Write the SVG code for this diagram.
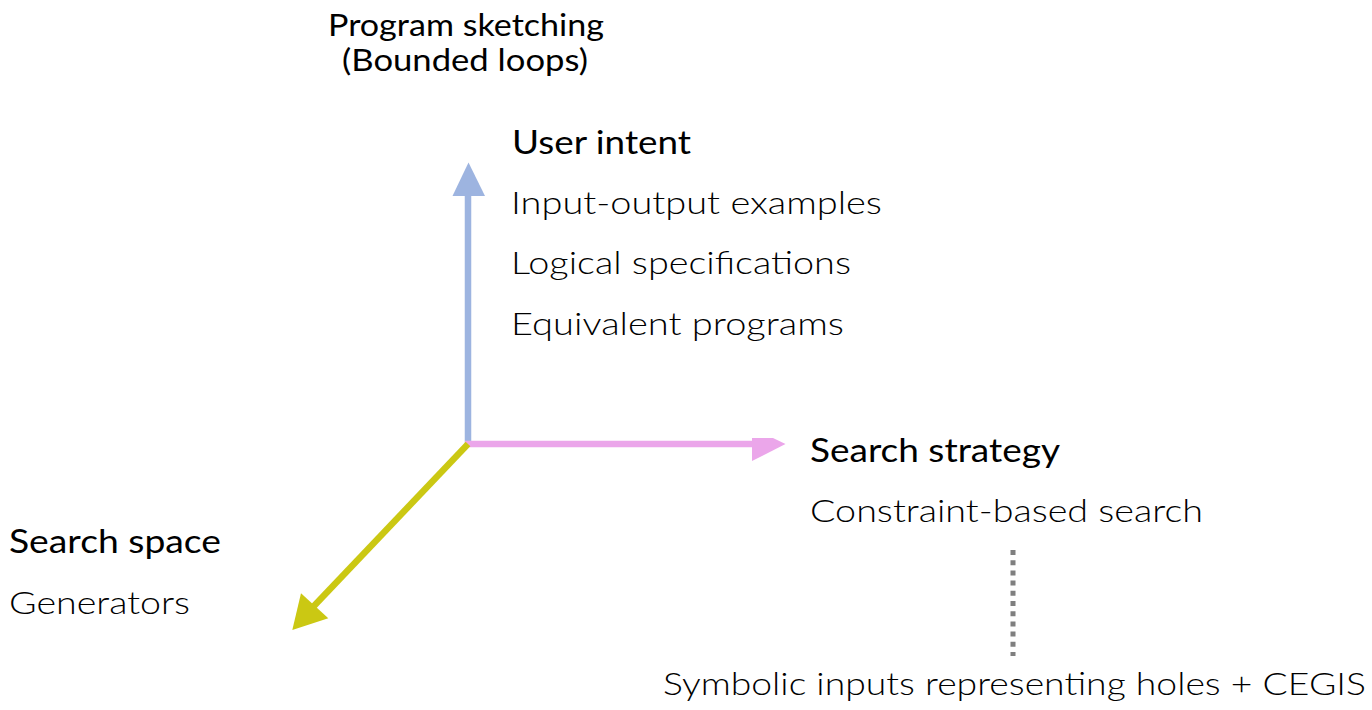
<svg xmlns="http://www.w3.org/2000/svg" width="1372" height="710" viewBox="0 0 1372 710">
  <style>
    .head { font-family: Lato, "Liberation Sans", sans-serif; font-size: 32px; font-weight: 400; fill: #000000; }
    .body { font-family: Lato, "Liberation Sans", sans-serif; font-size: 32px; font-weight: 300; fill: #000000; }
    .title { font-family: Lato, "Liberation Sans", sans-serif; font-size: 30px; font-weight: 400; fill: #000000; }
    .axis { fill: none; stroke-width: 6.5; stroke-linecap: butt; }
    .intent { stroke: #9db4e0; }
    .intent-head { fill: #9db4e0; }
    .strategy { stroke: #eba6ea; }
    .strategy-head { fill: #eba6ea; }
    .space { stroke: #cbc813; }
    .space-head { fill: #cbc813; }
    .dotted { fill: none; stroke: #7f7f7f; stroke-width: 5; stroke-dasharray: 5 5.2; }
  </style>

  <!-- three axes from a shared origin, plus the dotted link -->
  <g id="connectors">
    <line class="axis intent" x1="468" y1="444" x2="468" y2="194"/>
    <polygon class="intent-head" points="452.5,196 485,196 468.5,162.5"/>

    <line class="axis strategy" x1="465" y1="444" x2="753" y2="444"/>
    <polygon class="strategy-head" points="752,438 773,438 785.5,444 752,461"/>

    <line class="axis space" x1="468" y1="444" x2="313" y2="607"/>
    <polygon class="space-head" points="301,593.3 328.3,618.3 292.3,630"/>

    <line class="dotted" x1="1013" y1="550" x2="1013" y2="656"/>
  </g>

  <g id="node-program-sketching">
    <text class="title" x="328" y="36" textLength="276" lengthAdjust="spacingAndGlyphs">Program sketching</text>
    <text class="title" x="342" y="71" textLength="246" lengthAdjust="spacingAndGlyphs">(Bounded loops)</text>
  </g>

  <g id="node-user-intent">
    <text class="head" x="512" y="154" textLength="179" lengthAdjust="spacingAndGlyphs">User intent</text>
    <text class="body" x="511" y="214" textLength="371" lengthAdjust="spacingAndGlyphs">Input-output examples</text>
    <text class="body" x="511" y="274" textLength="340" lengthAdjust="spacingAndGlyphs">Logical specifications</text>
    <text class="body" x="511" y="335" textLength="333" lengthAdjust="spacingAndGlyphs">Equivalent programs</text>
  </g>

  <g id="node-search-strategy">
    <text class="head" x="810" y="462" textLength="250" lengthAdjust="spacingAndGlyphs">Search strategy</text>
    <text class="body" x="810" y="522" textLength="393" lengthAdjust="spacingAndGlyphs">Constraint-based search</text>
  </g>

  <g id="node-search-space">
    <text class="head" x="9" y="553" textLength="212" lengthAdjust="spacingAndGlyphs">Search space</text>
    <text class="body" x="9" y="614" textLength="181" lengthAdjust="spacingAndGlyphs">Generators</text>
  </g>

  <g id="node-cegis">
    <text class="body" x="663" y="695" textLength="703" lengthAdjust="spacingAndGlyphs">Symbolic inputs representing holes + CEGIS</text>
  </g>
</svg>
